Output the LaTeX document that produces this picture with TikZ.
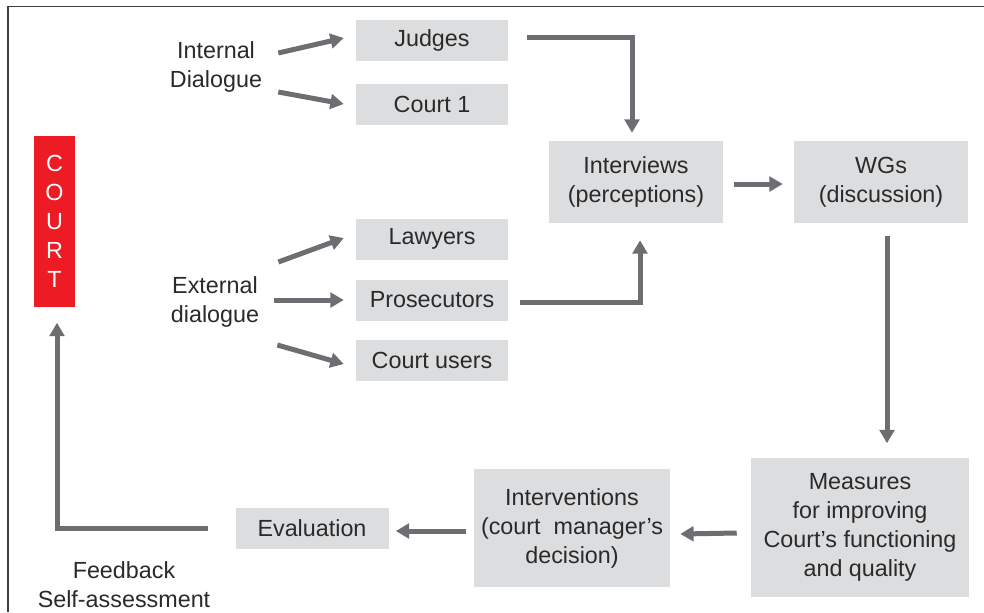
\documentclass[tikz,border=0pt]{standalone}
\usepackage{fontspec}
\setmainfont{Liberation Sans}
\usetikzlibrary{arrows.meta,calc,positioning}
\definecolor{boxgray}{HTML}{DCDDDE}
\definecolor{arrgray}{HTML}{6D6E71}
\definecolor{courtred}{HTML}{ED1C24}
\definecolor{txtgray}{HTML}{2B2A2B}
\tikzset{stage/.style={fill=boxgray,text=txtgray,align=center,inner sep=0pt,minimum width=114pt,minimum height=30.75pt},
  bigstage/.style={stage,minimum width=130.5pt,minimum height=61.5pt},
  flow/.style={draw=arrgray,line width=3.75pt,-{Triangle[length=10pt,width=11pt]}},
  lbl/.style={text=txtgray,align=center,inner sep=0pt}}

\begin{document}
\begin{tikzpicture}[x=0.75pt,y=-0.75pt,font=\fontsize{17.5}{21.75}\selectfont]
\useasboundingbox (0,0) rectangle (984,612);
\draw[txtgray!90,line width=1.1pt] (8,612) -- (8,6.5) -- (984,6.5);
% --- court and the two dialogues
\node[fill=courtred,text=white,align=center,inner sep=0pt,minimum width=30.75pt,minimum height=128.25pt] (court) at (54.5,221) {C\\O\\U\\R\\T};
\node[lbl] (intl) at (216,67) {Internal\\Dialogue};
\node[lbl] (extl) at (215,302) {External\\dialogue};
\node[stage] (judges) at (432,40) {Judges};
\node[stage] (court1) at (432,104) {Court 1};
\node[stage] (lawyers) at (432,239) {Lawyers};
\node[stage] (pros) at (432,300) {Prosecutors};
\node[stage] (users) at (432,360) {Court users};
% --- interviews, working groups and the way back
\node[bigstage] (interv) at (636,182) {Interviews\\(perceptions)};
\node[bigstage] (wgs) at (881,182) {WGs\\(discussion)};
\node[stage,minimum width=163.5pt,minimum height=104.25pt] (measures) at (860,527) {Measures\\for improving\\Court's functioning\\and quality};
\node[stage,minimum width=147pt,minimum height=88.5pt] (actions) at (572,528) {Interventions\\(court\ \ manager's\\decision)};
\node[stage,minimum width=114.75pt] (eval) at (312,528) {Evaluation};
\node[lbl] (fb) at (124,585) {Feedback\\Self-assessment};
% --- arrows
\draw[flow] ($(intl.east)+(16,-14)$) -- ($(judges.west)+(-12,-2)$);
\draw[flow] ($(intl.east)+(16,25)$) -- ($(court1.west)+(-12,0)$);
\draw[flow] ($(extl.east)+(19,-40)$) -- ($(lawyers.west)+(-12,-1)$);
\draw[flow] ($(extl.east)+(15,-2)$) -- ($(pros.west)+(-12,0)$);
\draw[flow] ($(extl.east)+(18,43)$) -- ($(users.west)+(-12,4)$);
\draw[flow] ($(judges.east)+(19,-3)$) -| ($(interv.north)+(-4,-8)$);
\draw[flow] ($(pros.east)+(12,2)$) -| ($(interv.south)+(4,17)$);
\draw[flow] ($(interv.east)+(11,2)$) -- ($(wgs.west)+(-11,2)$);
\draw[flow] ($(wgs.south)+(6,13)$) -- ($(measures.north)+(27,-14)$);
\draw[flow] ($(measures.west)+(-14,6)$) -- ($(actions.east)+(10,6)$);
\draw[flow] ($(actions.west)+(-8,3)$) -- ($(eval.east)+(7,3)$);
\draw[flow] ($(eval.west)+(-27,0)$) -| ($(court.south)+(2.5,16)$);
\end{tikzpicture}
\end{document}
